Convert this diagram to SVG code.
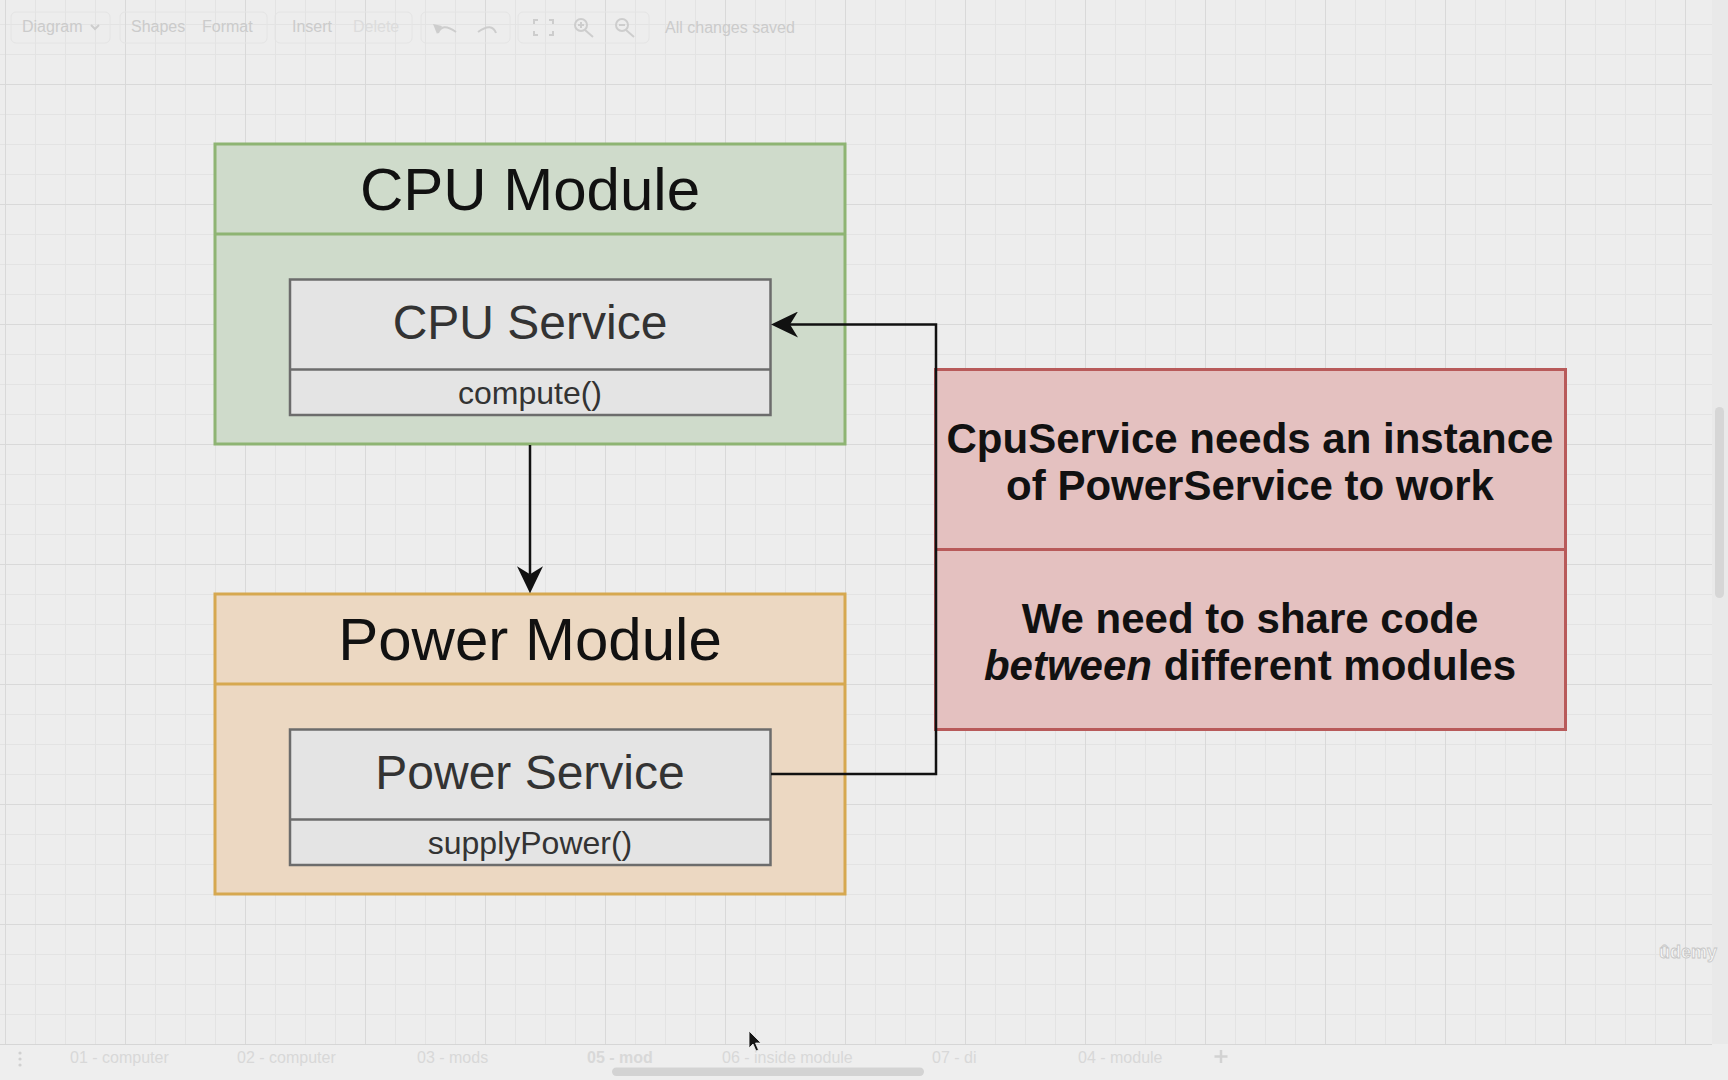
<svg xmlns="http://www.w3.org/2000/svg" width="1728" height="1080" viewBox="0 0 1728 1080">
<style>
  .ui { font-family: "Liberation Sans", Arial, sans-serif; font-size: 16px; fill: #cbcbcb; }
  .ui-faint { fill: #dcdcdc; }
  .tab { font-family: "Liberation Sans", Arial, sans-serif; font-size: 16px; fill: #d8d8d8; }
  .btn { fill: none; stroke: #e4e4e4; stroke-width: 1; }
  .icon { fill: none; stroke: #cdcdcd; stroke-width: 2; }
  .title { font-family: "Liberation Sans", Arial, sans-serif; font-size: 60px; fill: #111111; text-anchor: middle; }
  .svc { font-family: "Liberation Sans", Arial, sans-serif; font-size: 48px; fill: #333333; text-anchor: middle; }
  .meth { font-family: "Liberation Sans", Arial, sans-serif; font-size: 32px; fill: #333333; text-anchor: middle; }
  .note { font-family: "Liberation Sans", Arial, sans-serif; font-size: 42px; font-weight: bold; fill: #111111; text-anchor: middle; }
  .cpu { fill: #cfdbcb; stroke: #8eb473; stroke-width: 3; }
  .pwr { fill: #ecd8c2; stroke: #d6a850; stroke-width: 3; }
  .red { fill: #e4c1c0; stroke: #b85a5a; stroke-width: 3; }
  .box { fill: #e4e4e4; stroke: #6c6c6c; stroke-width: 2.5; }
  .edge { fill: none; stroke: #111111; stroke-width: 2.5; }
</style>
<defs>
  <pattern id="minor" x="5" y="24" width="30" height="30" patternUnits="userSpaceOnUse">
    <rect x="0" y="0" width="30" height="1" fill="#e3e3e3"/>
    <rect x="0" y="0" width="1" height="30" fill="#e3e3e3"/>
  </pattern>
  <pattern id="major" x="5" y="84" width="120" height="120" patternUnits="userSpaceOnUse">
    <rect x="0" y="0" width="120" height="1" fill="#d9d9d9"/>
    <rect x="0" y="0" width="1" height="120" fill="#d9d9d9"/>
  </pattern>
  <marker id="arrow" viewBox="0 0 27 26" refX="8" refY="13" markerWidth="27" markerHeight="26" markerUnits="userSpaceOnUse" orient="auto">
    <path d="M0,0 L27,13 L0,26 L8,13 Z" fill="#111111"/>
  </marker>
</defs>

<!-- canvas background and grid -->
<rect x="0" y="0" width="1728" height="1080" fill="#ededed"/>
<rect x="0" y="0" width="1712" height="1044" fill="url(#minor)"/>
<rect x="0" y="0" width="1712" height="1044" fill="url(#major)"/>
<rect x="1712" y="0" width="16" height="1044" fill="#e9e9e9"/>
<rect x="1715" y="407" width="9" height="191" rx="4.5" fill="#d6d6d6"/>

<!-- toolbar -->
<g id="toolbar">
  <rect class="btn" x="11" y="12" width="99" height="31" rx="5"/>
  <rect class="btn" x="120" y="12" width="147" height="31" rx="5"/>
  <rect class="btn" x="275" y="12" width="137" height="31" rx="5"/>
  <rect class="btn" x="421" y="12" width="89" height="31" rx="5"/>
  <rect class="btn" x="518" y="12" width="131" height="31" rx="5"/>
  <text class="ui" x="22" y="32">Diagram</text>
  <path class="icon" d="M91 25 L95 29 L99 25" stroke-width="1.2"/>
  <text class="ui" x="131" y="32">Shapes</text>
  <text class="ui" x="202" y="32">Format</text>
  <text class="ui" x="292" y="32">Insert</text>
  <text class="ui ui-faint" x="353" y="32">Delete</text>
  <path class="icon" d="M438 33 Q442 22 456 32"/>
  <path d="M433 24 L442 26 L437 34 Z" fill="#cdcdcd"/>
  <path class="icon" d="M478 32 Q492 22 496 33" stroke="#e0e0e0"/>
  <path class="icon" d="M534 24 V20 H538 M549 20 H553 V24 M553 31 V35 H549 M538 35 H534 V31"/>
  <circle class="icon" cx="581" cy="25" r="6"/>
  <path class="icon" d="M585 30 L593 37 M578 25 H584 M581 22 V28" stroke-width="1.5"/>
  <circle class="icon" cx="622" cy="25" r="6"/>
  <path class="icon" d="M626 30 L634 37 M619 25 H625" stroke-width="1.5"/>
  <text class="ui" x="665" y="33">All changes saved</text>
</g>

<!-- diagram nodes -->
<g id="cpu-module">
  <rect class="cpu" x="215" y="144" width="630" height="300"/>
  <line class="cpu" x1="215" y1="234" x2="845" y2="234"/>
  <text class="title" x="530" y="210">CPU Module</text>
</g>
<g id="cpu-service">
  <rect class="box" x="290" y="279.5" width="480.5" height="135.5"/>
  <line class="box" x1="290" y1="369.5" x2="770.5" y2="369.5"/>
  <text class="svc" x="530" y="339">CPU Service</text>
  <text class="meth" x="530" y="404">compute()</text>
</g>
<g id="power-module">
  <rect class="pwr" x="215" y="594" width="630" height="300"/>
  <line class="pwr" x1="215" y1="684" x2="845" y2="684"/>
  <text class="title" x="530" y="660">Power Module</text>
</g>
<g id="power-service">
  <rect class="box" x="290" y="729.5" width="480.5" height="135.5"/>
  <line class="box" x1="290" y1="819.5" x2="770.5" y2="819.5"/>
  <text class="svc" x="530" y="789">Power Service</text>
  <text class="meth" x="530" y="854">supplyPower()</text>
</g>
<g id="note">
  <rect class="red" x="935.5" y="369.5" width="630" height="360"/>
  <line class="red" x1="935.5" y1="549.5" x2="1565.5" y2="549.5"/>
  <text class="note" x="1250" y="452.5">CpuService needs an instance</text>
  <text class="note" x="1250" y="499.5">of PowerService to work</text>
  <text class="note" x="1250" y="632.5">We need to share code</text>
  <text class="note" x="1250" y="679.5"><tspan font-style="italic">between</tspan> different modules</text>
</g>

<!-- connectors -->
<g id="connectors">
  <path class="edge" d="M530 445 L530 574.3" marker-end="url(#arrow)"/>
  <path class="edge" d="M771 774 L936 774 L936 324.5 L790 324.5" marker-end="url(#arrow)"/>
</g>

<!-- bottom tab bar -->
<g id="tabbar">
  <rect x="0" y="1044" width="1728" height="36" fill="#eeeeee" fill-opacity="0.7"/>
  <rect x="0" y="1044" width="1712" height="1" fill="#d6d6d6"/>
  <circle cx="20" cy="1053" r="1.6" fill="#d0d0d0"/>
  <circle cx="20" cy="1059" r="1.6" fill="#d0d0d0"/>
  <circle cx="20" cy="1065" r="1.6" fill="#d0d0d0"/>
  <text class="tab" x="70" y="1063">01 - computer</text>
  <text class="tab" x="237" y="1063">02 - computer</text>
  <text class="tab" x="417" y="1063">03 - mods</text>
  <text class="tab" x="587" y="1063" font-weight="bold" fill="#cbcbcb">05 - mod</text>
  <text class="tab" x="722" y="1063">06 - inside module</text>
  <text class="tab" x="932" y="1063">07 - di</text>
  <text class="tab" x="1078" y="1063">04 - module</text>
  <path d="M1221 1050 V1063 M1214.5 1056.5 H1227.5" stroke="#d2d2d2" stroke-width="2.5" fill="none"/>
  <rect x="612" y="1067.5" width="312" height="8.5" rx="4.2" fill="#d3d3d3"/>
</g>

<!-- watermark and cursor -->
<text x="1659" y="958" font-family="'Liberation Sans', Arial, sans-serif" font-size="18" font-weight="bold" fill="#f5f5f5" stroke="#c6c6c6" stroke-width="0.8">ûdemy</text>
<path d="M749 1031 L749 1048 L753 1044 L756 1051 L758.5 1050 L755.5 1043 L761 1043 Z" fill="#151515" stroke="#f2f2f2" stroke-width="0.8"/>
</svg>
